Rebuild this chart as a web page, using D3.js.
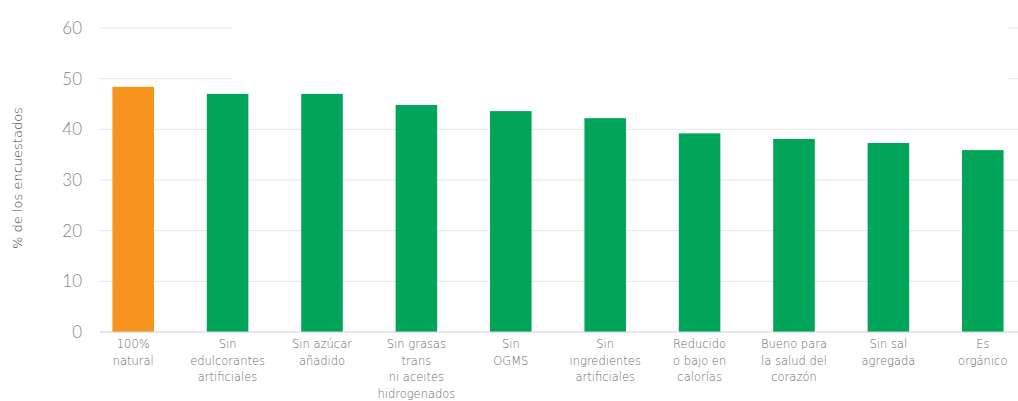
<!DOCTYPE html>
<html>
<head>
    <meta charset="utf-8">
    <style type="text/css">
        body { margin: 0; background: #fff; }
        #mySvg { width: 1018px; height: 401px; display: block; }
        text { font-family: "DejaVu Sans", sans-serif; font-weight: 200; }
        .tick text { fill: #858585; font-size: 17px; font-family: Lato, sans-serif; font-weight: 300; }
        .xlab text { fill: #6a6a6a; font-size: 11.5px; text-anchor: middle; }
        .grid line { stroke: #e6e6e6; stroke-width: 1px; }
    </style>
    <script src="https://d3js.org/d3.v7.min.js"></script>
</head>
<body>
    <svg id="mySvg"></svg>
<script type="text/javascript">
// values (% of respondents)
const categories = [
    ['100%', 'natural'],
    ['Sin', 'edulcorantes', 'artificiales'],
    ['Sin azúcar', 'añadido'],
    ['Sin grasas', 'trans', 'ni aceites', 'hidrogenados'],
    ['Sin', 'OGMS'],
    ['Sin', 'ingredientes', 'artificiales'],
    ['Reducido', 'o bajo en', 'calorías'],
    ['Bueno para', 'la salud del', 'corazón'],
    ['Sin sal', 'agregada'],
    ['Es', 'orgánico']
];
const values = [48.4, 47.0, 47.0, 44.8, 43.6, 42.2, 39.2, 38.1, 37.3, 35.9];
const highlight = [true, false, false, false, false, false, false, false, false, false];
const yTicks = [0, 10, 20, 30, 40, 50, 60];
const yTitle = '% de los encuestados';

const svg = d3.select('#mySvg');
const plotLeft = 100, plotRight = 1018, plotTop = 28, plotBottom = 332;

const x = d3.scaleBand()
    .domain(d3.range(categories.length))
    .range([86, 1030])
    .paddingInner(0.56)
    .paddingOuter(0.28);

const y = d3.scaleLinear()
    .domain([0, 60])
    .range([plotBottom, plotTop]);

// gridlines
svg.append('g')
    .attr('class', 'grid')
    .selectAll('line')
    .data(yTicks.slice(1))
    .enter()
    .append('line')
    .attr('x1', plotLeft)
    .attr('x2', plotRight)
    .attr('y1', d => y(d))
    .attr('y2', d => y(d));

// blank box over the top gridlines (as in the original)
svg.append('rect')
    .attr('x', 232).attr('y', 18)
    .attr('width', 776).attr('height', 72)
    .attr('fill', '#fff');

// y axis labels
const yAxis = svg.append('g')
    .attr('transform', 'translate(82,0)')
    .call(d3.axisLeft(y).tickValues(yTicks).tickSize(0).tickPadding(0));
yAxis.select('.domain').remove();

svg.append('text')
    .attr('transform', 'translate(22,178) rotate(-90)')
    .attr('text-anchor', 'middle')
    .style('font-size', '13px')
    .style('font-weight', 300)
    .style('fill', '#444')
    .text(yTitle);

// bars
svg.append('g')
    .selectAll('rect')
    .data(values)
    .enter()
    .append('rect')
    .attr('x', (d, i) => x(i))
    .attr('y', d => y(d))
    .attr('width', x.bandwidth())
    .attr('height', d => y(0) - y(d))
    .attr('fill', (d, i) => highlight[i] ? '#F7941D' : '#00A55A');

// baseline
svg.append('line')
    .attr('x1', plotLeft).attr('x2', plotRight)
    .attr('y1', y(0)).attr('y2', y(0))
    .attr('stroke', '#cfcfcf');

// category labels
const xl = svg.append('g')
    .attr('class', 'xlab')
    .selectAll('text')
    .data(categories)
    .enter()
    .append('text')
    .attr('x', (d, i) => x(i) + x.bandwidth() / 2)
    .attr('y', y(0) + 16);

xl.selectAll('tspan')
    .data(d => d)
    .enter()
    .append('tspan')
    .attr('x', function() { return d3.select(this.parentNode).attr('x'); })
    .attr('dy', (d, i) => i === 0 ? 0 : 16.5)
    .text(d => d);
</script>
</body>
</html>
